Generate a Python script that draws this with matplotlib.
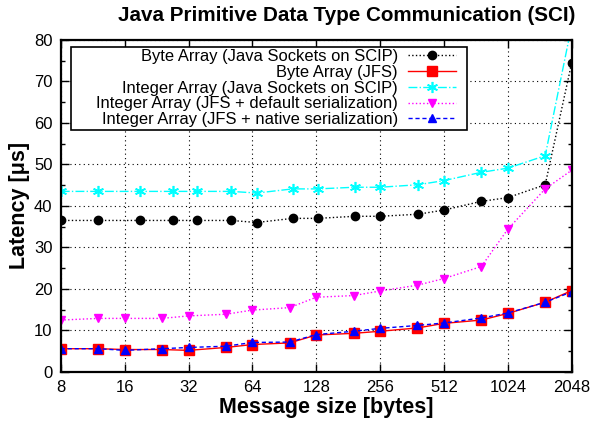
import numpy as np
import matplotlib
matplotlib.use("Agg")
import matplotlib.pyplot as plt
import matplotlib.ticker as mticker
from matplotlib.patches import Rectangle

plt.rcParams['font.family'] = ['Liberation Sans', 'DejaVu Sans']

# --- Data ---
size_sock = [8, 12, 19, 27, 35, 51, 67, 99, 130, 194, 256, 386, 512, 768, 1024, 1536, 2048]
size_jfs = [8, 12, 16, 24, 32, 48, 64, 96, 128, 192, 256, 384, 512, 768, 1024, 1536, 2048]

byte_sock = [36.5, 36.5, 36.5, 36.5, 36.5, 36.5, 36.0, 37.0, 37.0, 37.5, 37.5, 38.0, 39.0, 41.1, 42.0, 45.1, 74.5]
byte_jfs = [5.6, 5.6, 5.4, 5.4, 5.2, 5.9, 6.6, 7.0, 8.9, 9.3, 9.8, 10.6, 11.7, 12.5, 14.1, 16.8, 19.6]
int_sock = [43.5, 43.5, 43.5, 43.5, 43.5, 43.5, 43.1, 44.1, 44.1, 44.5, 44.5, 45.1, 46.1, 48.1, 49.1, 52.1, 83.5]
int_default = [12.5, 12.9, 12.9, 12.9, 13.5, 13.9, 14.9, 15.5, 18.0, 18.4, 19.5, 20.9, 22.5, 25.4, 34.4, 44.1, 48.6]
int_native = [5.6, 5.6, 5.2, 5.6, 5.9, 6.2, 7.1, 7.2, 9.0, 9.8, 10.5, 11.2, 11.8, 13.0, 14.2, 16.8, 19.3]

labels = ["Byte Array (Java Sockets on SCIP)",
          "Byte Array (JFS)",
          "Integer Array (Java Sockets on SCIP)",
          "Integer Array (JFS + default serialization)",
          "Integer Array (JFS + native serialization)"]

xticks = [8, 16, 32, 64, 128, 256, 512, 1024, 2048]
yticks = [0, 10, 20, 30, 40, 50, 60, 70, 80]

fig = plt.figure(figsize=(5.9, 4.29), dpi=100)
ax = fig.add_axes([0.103, 0.133, 0.866, 0.774])

ax.plot(size_sock, byte_sock, color="black", ls=":", lw=1, marker="o", ms=6, label=labels[0])
ax.plot(size_jfs, byte_jfs, color="red", ls="-", lw=1, marker="s", ms=6.5, label=labels[1])
ax.plot(size_sock, int_sock, color="cyan", ls="-.", lw=1, marker=(6, 2, 0), ms=8, mew=1.2, label=labels[2])
ax.plot(size_jfs, int_default, color="magenta", ls=":", lw=1, marker="v", ms=5.5, label=labels[3])
ax.plot(size_jfs, int_native, color="blue", ls=(0, (3, 2)), lw=1, marker="^", ms=5.5, label=labels[4])

ax.set_xscale("log", base=2)
ax.set_xlim(8, 2048)
ax.set_ylim(0, 80)
ax.set_xticks(xticks)
ax.xaxis.set_major_formatter(mticker.FixedFormatter([str(t) for t in xticks]))
ax.xaxis.set_minor_locator(mticker.NullLocator())
ax.set_yticks(yticks)
ax.yaxis.set_minor_locator(mticker.MultipleLocator(5))

ax.tick_params(which="both", direction="in", top=True, right=True, labelsize=12)
ax.tick_params(axis="x", pad=6)
ax.tick_params(axis="y", pad=6)
ax.tick_params(which="major", length=6, width=1)
ax.tick_params(which="minor", length=3, width=1)
ax.grid(True, which="major", color="black", ls=(0, (1, 3)), lw=0.8)
for s in ax.spines.values():
    s.set_linewidth(1.6)

fig.text(347 / 590, 1 - 21 / 429, "Java Primitive Data Type Communication (SCI)",
         fontsize=14.9, fontweight="bold", ha="center", va="baseline")
ax.set_xlabel("Message size [bytes]", fontsize=15.5, fontweight="bold")
ax.xaxis.set_label_coords(0.52, -0.075)
ax.set_ylabel("Latency [\u03bcs]", fontsize=15.5, fontweight="bold")
ax.yaxis.set_label_coords(-0.06, 0.5)

# gnuplot-style key: wide box with the entries pushed to the right
ax.add_patch(Rectangle((0.0196, 0.729), 0.775, 0.25, transform=ax.transAxes,
                       facecolor="white", edgecolor="black", lw=1.2, zorder=4.9))
leg = ax.legend(loc="upper right", bbox_to_anchor=(0.777, 0.979), markerfirst=False,
                fontsize=11.9, handlelength=2.9, labelspacing=0.05, borderpad=0.12,
                handletextpad=0.6, borderaxespad=0, frameon=False)
leg.set_zorder(5)

fig.savefig("out.png", dpi=100)
